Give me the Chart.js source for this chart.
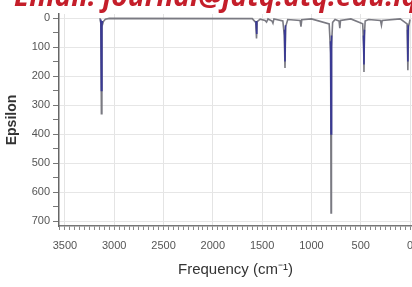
<!DOCTYPE html>
<html><head><meta charset="utf-8">
<script src="https://cdn.jsdelivr.net/npm/chart.js@4/dist/chart.umd.min.js"></script>
<style>
html,body{margin:0;padding:0;background:#fff;overflow:hidden}
#wrap{position:relative;width:412px;height:287px;overflow:hidden}
#hdr{position:absolute;left:14px;top:-20px;white-space:nowrap;font:italic bold 28px "Open Sans",sans-serif;color:#c41e2a;line-height:30px;z-index:2}
canvas{position:absolute;left:0;top:0}
</style></head><body>
<div id="wrap"><div id="hdr">Email: journal@jatq.atq.edu.iq</div><canvas id="c" width="412" height="287"></canvas></div>
<script>
const freqGray = [3145,3135,3130,3125,3110,3090,3050,1600,1565,1557,1550,1520,1470,1455,1440,1400,1390,1380,1290,1275,1268,1262,1240,1115,1106,1098,1000,820,805,801,797,785,760,720,712,705,600,480,470,467,463,455,420,300,290,282,100,30,22,15,0];
const epsGray  = [0,20,330,30,12,4,1,2,15,70,12,4,8,14,3,10,18,3,10,60,172,30,5,8,30,6,3,20,120,672,100,15,5,10,35,8,3,20,100,186,60,10,5,8,25,8,3,20,180,30,5];
const freqBlue = [3138,3135,3130,3125,3120,null,1562,1557,1552,null,1273,1268,1263,null,806,801,796,null,472,467,462,null,25,22,18];
const epsBlue  = [5,20,250,25,10,null,10,55,10,null,40,150,25,null,80,400,60,null,60,160,40,null,40,150,25];
const xTickVals = []; for (let v = 0; v <= 3550; v += 50) xTickVals.push(v);
const yTickVals = []; for (let v = 0; v <= 700; v += 50) yTickVals.push(v);

const toPts = (xs, ys) => xs.map((x, i) => (x === null ? {x: NaN, y: null} : {x, y: ys[i]}));

new Chart(document.getElementById('c'), {
  type: 'line',
  data: { datasets: [
    { data: toPts(freqBlue, epsBlue), borderColor: '#3a3a94', borderWidth: 1.6, pointRadius: 0, tension: 0, spanGaps: false, order: 0 },
    { data: toPts(freqGray, epsGray), borderColor: '#7a7a82', borderWidth: 1.6, pointRadius: 0, tension: 0, order: 1 }
  ]},
  options: {
    responsive: false, animation: false, devicePixelRatio: 1,
    layout: { padding: { top: 14, right: 0, left: 4, bottom: 0 } },
    plugins: { legend: { display: false }, tooltip: { enabled: false } },
    scales: {
      x: {
        type: 'linear', reverse: true, min: -20, max: 3560,
        afterBuildTicks: s => { s.ticks = xTickVals.map(v => ({value: v})); },
        afterFit: s => { s.height = 61; },
        border: { color: '#777', width: 1.5 },
        grid: { color: c => (c.tick && c.tick.value % 500 === 0) ? '#e4e4e4' : 'rgba(0,0,0,0)', tickColor: '#888', tickLength: 4, lineWidth: 1 },
        ticks: { autoSkip: false, maxRotation: 0, padding: 9, color: '#555', font: { family: '"Liberation Sans Narrow","Liberation Sans",sans-serif', size: 11 },
          callback: v => (v % 500 === 0 ? String(v) : '') },
        title: { display: true, text: 'Frequency (cm\u207B\u00B9)', color: '#333', font: { family: '"Liberation Sans Narrow","Liberation Sans",sans-serif', size: 15 }, padding: { top: 0, bottom: 8 } }
      },
      y: {
        type: 'linear', reverse: true, min: -14, max: 717,
        afterBuildTicks: s => { s.ticks = yTickVals.map(v => ({value: v})); },
        afterFit: s => { s.width = 55; },
        border: { color: '#666', width: 1.5 },
        grid: { color: c => (c.tick && c.tick.value % 100 === 0) ? '#e6e6e6' : 'rgba(0,0,0,0)', tickColor: '#777', tickLength: 6, lineWidth: 1 },
        ticks: { autoSkip: false, padding: 3, color: '#555', font: { family: '"Liberation Sans Narrow","Liberation Sans",sans-serif', size: 11 },
          callback: v => (v % 100 === 0 ? String(v) : '') },
        title: { display: true, text: 'Epsilon', color: '#333', font: { family: '"Liberation Sans","Arial",sans-serif', size: 14, weight: 'bold' }, padding: { top: 0, bottom: 0 } }
      }
    }
  }
});
</script></body></html>
